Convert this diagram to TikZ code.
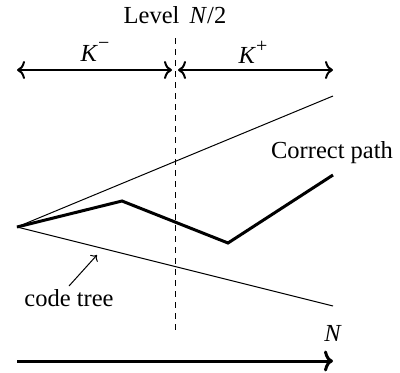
\documentclass[tikz,border=0pt]{standalone}
\usepackage{fontspec}
\setmainfont{Liberation Serif}
\usetikzlibrary{arrows.meta}
\begin{document}
\begin{tikzpicture}[x=1pt,y=-1pt,
  lbl/.style={inner sep=0pt,font=\fontsize{24.5}{28}\selectfont},
  thinline/.style={line width=1pt},
  thickline/.style={line width=3pt},
  dimarrow/.style={line width=2pt,{Computer Modern Rightarrow[length=8pt,width=18pt]}-{Computer Modern Rightarrow[length=8pt,width=18pt]}},
  timearrow/.style={line width=3pt,-{Computer Modern Rightarrow[length=9pt,width=21pt]}}]
\useasboundingbox (0,0) rectangle (400,373);
% coordinates
\coordinate (root) at (17,227);
\coordinate (up) at (333,96);
\coordinate (lo) at (333,306);
\coordinate (p1) at (122,201);
\coordinate (p2) at (228,243);
\coordinate (p3) at (333,175);
\coordinate (dtop) at (175,38);
\coordinate (dbot) at (175,333);
\coordinate (al) at (17,70);
\coordinate (am1) at (172,70);
\coordinate (am2) at (178,70);
\coordinate (ar) at (333,70);
\coordinate (bl) at (17,361);
\coordinate (br) at (333,361);
\coordinate (ctail) at (69,286);
\coordinate (chead) at (97,255);
% labels
\node[lbl] (level) at (175,15) {Level \,\textit{N}/2};
\node[lbl] (km) at (95,52) {\textit{K}\raisebox{0.5em}{\fontsize{20}{22}\selectfont −}};
\node[lbl] (kp) at (253,52) {\textit{K}\raisebox{0.45em}{\fontsize{20}{22}\selectfont +}};
\node[lbl] (cp) at (332,153) {Correct path};
\node[lbl] (ct) at (69,298) {code tree};
\node[lbl] (n) at (333,333) {\textit{N}};
% tree
\draw[thinline] (root) -- (up);
\draw[thinline] (root) -- (lo);
\draw[thickline,line join=miter] (root) -- (p1) -- (p2) -- (p3);
\draw[thinline,dash pattern=on 6pt off 5pt] (dtop) -- (dbot);
\draw[dimarrow] (al) -- (am1);
\draw[dimarrow] (am2) -- (ar);
\draw[timearrow] (bl) -- (br);
\draw[thinline,-{Computer Modern Rightarrow[length=5pt,width=10pt]}] (ctail) -- (chead);
\end{tikzpicture}
\end{document}
